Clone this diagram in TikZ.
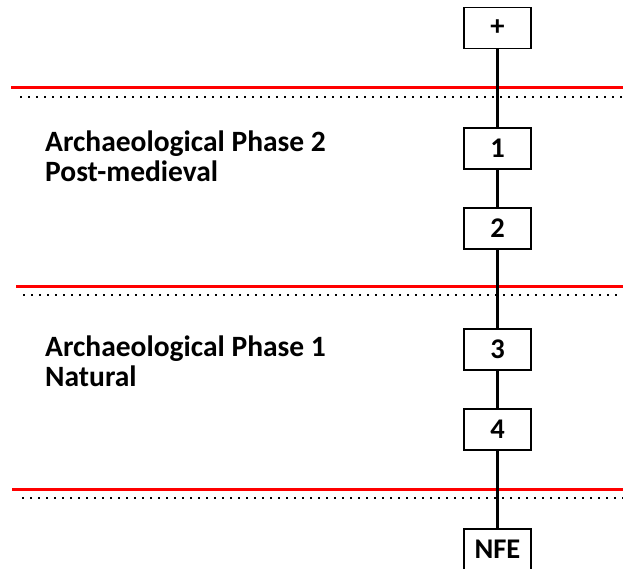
\documentclass[tikz,border=0pt]{standalone}
\usepackage{fontspec}
\setmainfont{Carlito}
\usetikzlibrary{positioning}
\definecolor{phasered}{RGB}{255,0,0}

\begin{document}
\begin{tikzpicture}[x=1pt, y=-1pt,
  unit/.style={draw, line width=1.2pt, minimum width=67pt, minimum height=41pt, inner sep=0pt,
    font=\fontsize{28.5}{30}\selectfont\bfseries},
  phasetext/.style={anchor=base west, inner sep=0pt, font=\fontsize{29.5}{30}\selectfont\bfseries},
  boundary/.style={phasered, line width=3pt},
  dotline/.style={line width=1.5pt, dash pattern=on 1.5pt off 6.5pt},
  link/.style={line width=2.5pt}
]
  \useasboundingbox (0,0) rectangle (623,569);

  % phase boundaries
  \foreach \yr/\xr/\xd/\yd in {87.5/11/20/97, 286/16/23/295, 489/12/22/498} {
    \draw[boundary] (\xr,\yr) -- (623,\yr);
    \draw[dotline] (\xd,\yd) -- (623,\yd);
  }

  % phase labels
  \node[phasetext] (ph2) at (45,152) {Archaeological Phase 2};
  \node[phasetext] (pd2) at (45,182) {Post-medieval};
  \node[phasetext] (ph1) at (45,356.5) {Archaeological Phase 1};
  \node[phasetext] (pd1) at (45,386.5) {Natural};

  % matrix units
  \node[unit] (plus) at (497.5,28) {+};
  \node[unit] (u1) at (497.5,148.5) {1};
  \node[unit] (u2) at (497.5,228.5) {2};
  \node[unit] (u3) at (497.5,349.5) {3};
  \node[unit] (u4) at (497.5,429.5) {4};
  \node[unit] (nfe) at (497.5,549.5) {NFE};

  \draw[link] (plus) -- (u1) -- (u2) -- (u3) -- (u4) -- (nfe);
\end{tikzpicture}
\end{document}
